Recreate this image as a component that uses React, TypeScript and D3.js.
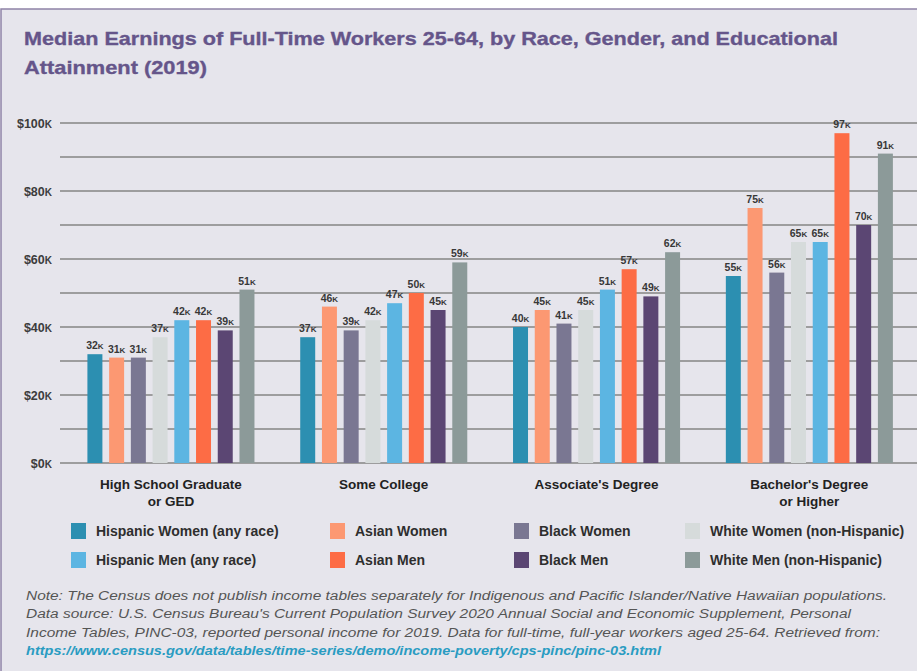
import React from "react";
import * as d3 from "d3";

const categoryLines: string[][] = [
  ["High School Graduate", "or GED"],
  ["Some College"],
  ["Associate's Degree"],
  ["Bachelor's Degree", "or Higher"],
];

const seriesNames = [
  "Hispanic Women (any race)",
  "Asian Women",
  "Black Women",
  "White Women (non-Hispanic)",
  "Hispanic Men (any race)",
  "Asian Men",
  "Black Men",
  "White Men (non-Hispanic)",
];

const seriesColors = [
  "#2c8fb1",
  "#fc9872",
  "#7a7792",
  "#d6dbdb",
  "#5cb5e2",
  "#fd6c45",
  "#5b4673",
  "#8c9a99",
];

// values in $K per category (HS, Some College, Associate's, Bachelor's)
const hispanicWomen = [32, 37, 40, 55];
const asianWomen = [31, 46, 45, 75];
const blackWomen = [31, 39, 41, 56];
const whiteWomen = [37, 42, 45, 65];
const hispanicMen = [42, 47, 51, 65];
const asianMen = [42, 50, 57, 97];
const blackMen = [39, 45, 49, 70];
const whiteMen = [51, 59, 62, 91];

const seriesValues = [
  hispanicWomen,
  asianWomen,
  blackWomen,
  whiteWomen,
  hispanicMen,
  asianMen,
  blackMen,
  whiteMen,
];

const yTickValues = [0, 20, 40, 60, 80, 100];

const titleLines = [
  "Median Earnings of Full-Time Workers 25-64, by Race, Gender, and Educational",
  "Attainment (2019)",
];

const noteLines = [
  "Note: The Census does not publish income tables separately for Indigenous and Pacific Islander/Native Hawaiian populations.",
  "Data source: U.S. Census Bureau's Current Population Survey 2020 Annual Social and Economic Supplement, Personal",
  "Income Tables, PINC-03, reported personal income for 2019. Data for full-time, full-year workers aged 25-64. Retrieved from:",
];
const noteLink = "https://www.census.gov/data/tables/time-series/demo/income-poverty/cps-pinc/pinc-03.html";

const W = 917;
const H = 671;

export default function App() {
  const y = d3.scaleLinear().domain([0, 100]).range([463, 123]);
  const x0 = d3
    .scaleBand<number>()
    .domain(d3.range(categoryLines.length))
    .range([64, 916.3])
    .paddingInner(0.215)
    .paddingOuter(0.11);
  const x1 = d3
    .scaleBand<number>()
    .domain(d3.range(seriesNames.length))
    .range([0, x0.bandwidth()])
    .paddingInner(0.31)
    .paddingOuter(0);

  const font = "'Liberation Sans', Arial, sans-serif";
  const legendCols = [71, 330, 514, 685];
  const legendRows = [531, 560];

  const noteWidths = [861, 825, 854];

  return (
    <svg
      width={W}
      height={H}
      style={{ position: "absolute", left: 0, top: 0, display: "block" }}
      fontFamily={font}
    >
      <rect x={0} y={0} width={W} height={H} fill="#ffffff" />
      <rect x={1} y={9} width={W + 20} height={H + 20} fill="#e6e5ec" stroke="#8e83a6" strokeWidth={1.5} />

      {titleLines.map((t, i) => (
        <text
          key={i}
          x={24}
          y={45 + i * 29}
          fontSize={19}
          fontWeight="bold"
          fill="#65558a"
          stroke="#65558a"
          strokeWidth={0.35}
          textLength={i === 0 ? 814 : 183}
          lengthAdjust="spacingAndGlyphs"
        >
          {t}
        </text>
      ))}

      {/* gridlines */}
      {y.ticks(10).map((v) => (
        <line key={v} x1={60} x2={W} y1={y(v)} y2={y(v)} stroke="#858585" strokeWidth={1.4} />
      ))}

      {/* y tick labels */}
      {yTickValues.map((v) => (
        <text
          key={v}
          x={52}
          y={y(v) + 4.5}
          textAnchor="end"
          fontSize={12.5}
          fontWeight="bold"
          fill="#3c3c3c"
        >
          ${v}
          <tspan fontSize={10}>K</tspan>
        </text>
      ))}

      {/* bars */}
      {categoryLines.map((_, ci) => (
        <g key={ci} transform={`translate(${x0(ci)},0)`}>
          {seriesValues.map((vals, si) => (
            <g key={si}>
              <rect
                x={x1(si)}
                y={y(vals[ci])}
                width={x1.bandwidth()}
                height={y(0) - y(vals[ci])}
                fill={seriesColors[si]}
              />
              <text
                x={(x1(si) as number) + x1.bandwidth() / 2}
                y={y(vals[ci]) - 5}
                textAnchor="middle"
                fontSize={10.5}
                fontWeight="bold"
                fill="#383838"
              >
                {vals[ci]}
                <tspan fontSize={8}>K</tspan>
              </text>
            </g>
          ))}
        </g>
      ))}

      {/* category labels */}
      {categoryLines.map((lines, ci) => (
        <text
          key={ci}
          x={(x0(ci) as number) + x0.bandwidth() / 2}
          y={489}
          textAnchor="middle"
          fontSize={13.5}
          fontWeight="bold"
          fill="#222"
        >
          {lines.map((l, li) => (
            <tspan key={li} x={(x0(ci) as number) + x0.bandwidth() / 2} dy={li === 0 ? 0 : 17}>
              {l}
            </tspan>
          ))}
        </text>
      ))}

      {/* legend */}
      {seriesNames.map((name, si) => {
        const col = si % 4;
        const row = Math.floor(si / 4);
        const lx = legendCols[col];
        const ly = legendRows[row];
        return (
          <g key={si}>
            <rect x={lx} y={ly - 8} width={15} height={16} fill={seriesColors[si]} />
            <text x={lx + 25} y={ly + 5} fontSize={14} fontWeight="bold" fill="#2e2e2e">
              {name}
            </text>
          </g>
        );
      })}

      {/* notes */}
      {noteLines.map((t, i) => (
        <text
          key={i}
          x={26}
          y={600 + i * 18.3}
          fontSize={12.5}
          fontStyle="italic"
          fill="#555"
          textLength={noteWidths[i]}
          lengthAdjust="spacingAndGlyphs"
        >
          {t}
        </text>
      ))}
      <text
        x={26}
        y={600 + 3 * 18.3}
        fontSize={12.5}
        fontStyle="italic"
        fontWeight="bold"
        fill="#2a9cc2"
        textLength={635}
        lengthAdjust="spacingAndGlyphs"
      >
        {noteLink}
      </text>
    </svg>
  );
}
